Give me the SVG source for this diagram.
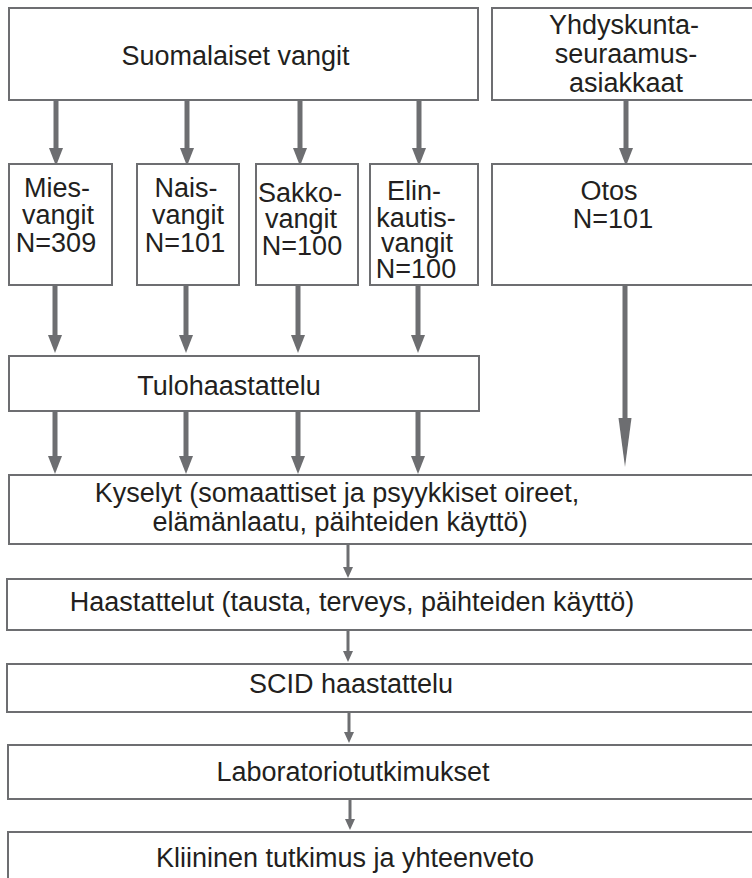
<svg xmlns="http://www.w3.org/2000/svg" width="752" height="878" viewBox="0 0 752 878">
<style>
.box{fill:#fff;stroke:#6d6e71;stroke-width:2}
.t{font-family:"Liberation Sans",Arial,sans-serif;font-size:27px;fill:#231f20;text-anchor:middle}
.shaft{stroke:#6d6e71;stroke-width:5;fill:none}
.thin{stroke:#6d6e71;stroke-width:3;fill:none}
.head{fill:#6d6e71;stroke:none}
</style>
<rect width="752" height="878" fill="#fff"/>
<g id="connectors">
  <line class="shaft" x1="56" y1="101" x2="56" y2="150"/><polygon class="head" points="49,148 63,148 56,166"/>
  <line class="shaft" x1="187" y1="101" x2="187" y2="150"/><polygon class="head" points="180,148 194,148 187,166"/>
  <line class="shaft" x1="300" y1="101" x2="300" y2="150"/><polygon class="head" points="293,148 307,148 300,166"/>
  <line class="shaft" x1="419" y1="101" x2="419" y2="150"/><polygon class="head" points="412,148 426,148 419,166"/>
  <line class="shaft" x1="626" y1="101" x2="626" y2="150"/><polygon class="head" points="619,148 633,148 626,166"/>
  <line class="shaft" x1="55" y1="286" x2="55" y2="337"/><polygon class="head" points="48,335 62,335 55,353"/>
  <line class="shaft" x1="186" y1="286" x2="186" y2="337"/><polygon class="head" points="179,335 193,335 186,353"/>
  <line class="shaft" x1="298" y1="286" x2="298" y2="337"/><polygon class="head" points="291,335 305,335 298,353"/>
  <line class="shaft" x1="418" y1="286" x2="418" y2="337"/><polygon class="head" points="411,335 425,335 418,353"/>
  <line class="shaft" x1="55" y1="412" x2="55" y2="458"/><polygon class="head" points="48,456 62,456 55,474"/>
  <line class="shaft" x1="186" y1="412" x2="186" y2="458"/><polygon class="head" points="179,456 193,456 186,474"/>
  <line class="shaft" x1="298" y1="412" x2="298" y2="458"/><polygon class="head" points="291,456 305,456 298,474"/>
  <line class="shaft" x1="418" y1="412" x2="418" y2="458"/><polygon class="head" points="411,456 425,456 418,474"/>
  <line class="shaft" x1="625" y1="286" x2="625" y2="420"/><polygon class="head" points="618.5,418 631.5,418 625,467"/>
  <line class="thin" x1="348" y1="545" x2="348" y2="569"/><polygon class="head" points="343,567 353,567 348,578"/>
  <line class="thin" x1="348" y1="631" x2="348" y2="652"/><polygon class="head" points="343,651 353,651 348,662"/>
  <line class="thin" x1="349" y1="713" x2="349" y2="733"/><polygon class="head" points="344,732 354,732 349,743"/>
  <line class="thin" x1="350" y1="800" x2="350" y2="820"/><polygon class="head" points="345,819 355,819 350,830"/>
</g>
<g id="suomalaiset">
  <rect class="box" x="9" y="8" width="469" height="92"/>
  <text class="t" x="235.5" y="65">Suomalaiset vangit</text>
</g>
<g id="yhdyskunta">
  <rect class="box" x="492" y="8" width="280" height="92"/>
  <text class="t" x="624" y="34">Yhdyskunta-</text>
  <text class="t" x="626" y="63">seuraamus-</text>
  <text class="t" x="626" y="92">asiakkaat</text>
</g>
<g id="mies">
  <rect class="box" x="9" y="164" width="103" height="121"/>
  <text class="t" x="57" y="197">Mies-</text>
  <text class="t" x="58" y="224">vangit</text>
  <text class="t" x="56" y="252">N=309</text>
</g>
<g id="nais">
  <rect class="box" x="137" y="164" width="102" height="121"/>
  <text class="t" x="186" y="197">Nais-</text>
  <text class="t" x="188" y="224">vangit</text>
  <text class="t" x="185" y="252">N=101</text>
</g>
<g id="sakko">
  <rect class="box" x="256" y="164" width="102" height="121"/>
  <text class="t" x="300" y="202">Sakko-</text>
  <text class="t" x="301" y="228">vangit</text>
  <text class="t" x="302" y="255">N=100</text>
</g>
<g id="elin">
  <rect class="box" x="370" y="164" width="108" height="121"/>
  <text class="t" x="414" y="200">Elin-</text>
  <text class="t" x="416" y="227">kautis-</text>
  <text class="t" x="417" y="252">vangit</text>
  <text class="t" x="416" y="278">N=100</text>
</g>
<g id="otos">
  <rect class="box" x="492" y="164" width="280" height="121"/>
  <text class="t" x="609" y="200">Otos</text>
  <text class="t" x="613" y="228">N=101</text>
</g>
<g id="tulohaastattelu">
  <rect class="box" x="9" y="356" width="470" height="55"/>
  <text class="t" x="229" y="395">Tulohaastattelu</text>
</g>
<g id="kyselyt">
  <rect class="box" x="9" y="475" width="763" height="69"/>
  <text class="t" x="337" y="502">Kyselyt (somaattiset ja psyykkiset oireet,</text>
  <text class="t" x="340" y="531">elämänlaatu, päihteiden käyttö)</text>
</g>
<g id="haastattelut">
  <rect class="box" x="7" y="579" width="765" height="51"/>
  <text class="t" x="352" y="611">Haastattelut (tausta, terveys, päihteiden käyttö)</text>
</g>
<g id="scid">
  <rect class="box" x="7" y="664" width="765" height="48"/>
  <text class="t" x="351" y="693">SCID haastattelu</text>
</g>
<g id="laboratorio">
  <rect class="box" x="8" y="745" width="764" height="54"/>
  <text class="t" x="353" y="781">Laboratoriotutkimukset</text>
</g>
<g id="kliininen">
  <rect class="box" x="8" y="832" width="764" height="70"/>
  <text class="t" x="345" y="867">Kliininen tutkimus ja yhteenveto</text>
</g>
</svg>
